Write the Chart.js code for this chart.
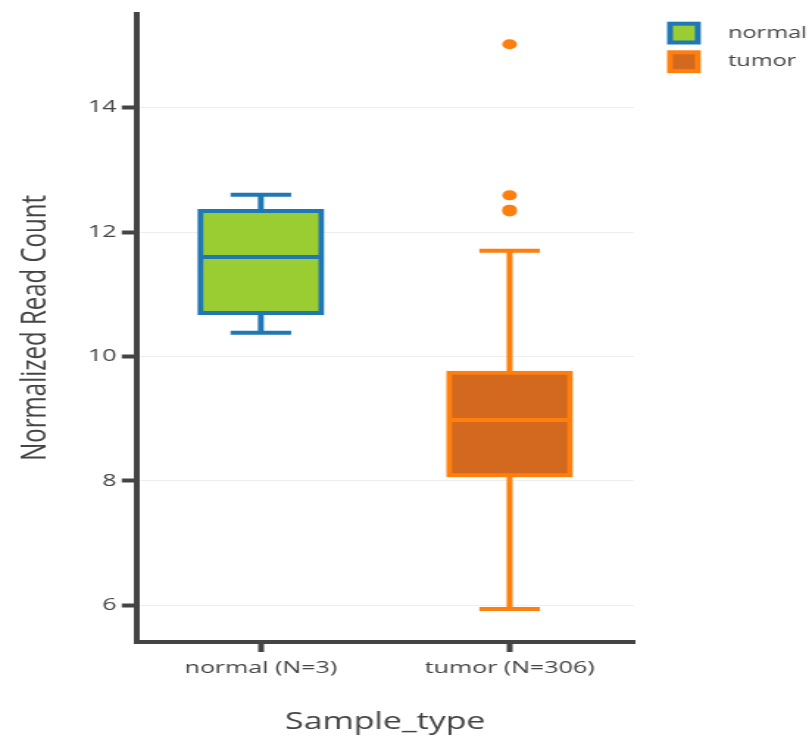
<!DOCTYPE html>
<html>
<head>
<meta charset="utf-8">
<script src="https://cdn.jsdelivr.net/npm/chart.js@4.4.1/dist/chart.umd.min.js"></script>
<style>
  html, body { margin: 0; padding: 0; background: #fff; overflow: hidden; }
  /* the reference is stretched sideways, so the chart is drawn narrow and widened */
  #wrap { width: 550px; height: 740px; transform: scaleX(1.4709); transform-origin: 0 0; }
</style>
</head>
<body>
<div id="wrap"><canvas id="c" width="550" height="740"></canvas></div>
<script>
const categories = ["normal (N=3)", "tumor (N=306)"];
const groups = ["normal", "tumor"];
const whiskerLow = [10.38, 5.94];
const q1 = [10.7, 8.09];
const median = [11.6, 8.98];
const q3 = [12.34, 9.74];
const whiskerHigh = [12.6, 11.7];
const outliers = [[], [15.02, 12.59, 12.36, 12.33]];
const yTicks = [6, 8, 10, 12, 14];
const yMin = 5.41;
const yMax = 15.51;
const fills = ["#9acd32", "#d2691e"];
const strokes = ["#1f77b4", "#ff7f0e"];

const INK = "#444";
const FONT = "'Open Sans', sans-serif";
const LW = 4;

const boxes = groups.map((g, i) => ({
  type: "bar",
  label: g,
  data: categories.map((_, j) => (j === i ? [q1[i], q3[i]] : null)),
  backgroundColor: fills[i],
  borderColor: strokes[i],
  borderWidth: LW,
  borderSkipped: false,
  inflateAmount: LW / 2,
  barThickness: 82.3,
  grouped: false,
}));

const dots = {
  type: "line",
  label: "outliers",
  data: outliers.flatMap((arr, i) => arr.map((y) => ({ x: categories[i], y }))),
  showLine: false,
  pointRadius: 5,
  pointHoverRadius: 5,
  pointBorderWidth: 0,
  pointBackgroundColor: (c) => strokes[categories.indexOf(c.raw?.x)] || strokes[1],
};

// whisker stems + caps behind the boxes, median on top
const whiskers = {
  id: "whiskers",
  beforeDatasetsDraw(chart) {
    const { ctx, scales: { x, y } } = chart;
    ctx.save();
    ctx.lineWidth = LW;
    groups.forEach((_, i) => {
      const cx = x.getPixelForValue(i);
      const half = chart.getDatasetMeta(i).data[i].width / 4;
      ctx.strokeStyle = strokes[i];
      ctx.beginPath();
      ctx.moveTo(cx, y.getPixelForValue(q3[i]));
      ctx.lineTo(cx, y.getPixelForValue(whiskerHigh[i]));
      ctx.moveTo(cx, y.getPixelForValue(q1[i]));
      ctx.lineTo(cx, y.getPixelForValue(whiskerLow[i]));
      [whiskerHigh[i], whiskerLow[i]].forEach((v) => {
        const py = y.getPixelForValue(v);
        ctx.moveTo(cx - half, py);
        ctx.lineTo(cx + half, py);
      });
      ctx.stroke();
    });
    ctx.restore();
  },
  afterDatasetsDraw(chart) {
    const { ctx, scales: { x, y } } = chart;
    ctx.save();
    ctx.lineWidth = LW;
    groups.forEach((_, i) => {
      const cx = x.getPixelForValue(i);
      const w = chart.getDatasetMeta(i).data[i].width / 2;
      const py = y.getPixelForValue(median[i]);
      ctx.strokeStyle = strokes[i];
      ctx.beginPath();
      ctx.moveTo(cx - w, py);
      ctx.lineTo(cx + w, py);
      ctx.stroke();
    });
    ctx.restore();
  },
};

const legendBox = {
  id: "legendBox",
  afterDraw(chart) {
    const { ctx } = chart;
    ctx.save();
    ctx.font = `16px ${FONT}`;
    ctx.textBaseline = "middle";
    groups.forEach((g, i) => {
      const top = 23.7 + i * 28.6;
      ctx.fillStyle = fills[i];
      ctx.fillRect(455.5, top, 18.9, 18.8);
      ctx.strokeStyle = strokes[i];
      ctx.lineWidth = LW;
      ctx.strokeRect(455.5, top, 18.9, 18.8);
      ctx.fillStyle = INK;
      ctx.fillText(g, 494.9, top + 9.4);
    });
    ctx.restore();
  },
};

new Chart(document.getElementById("c"), {
  type: "bar",
  data: { labels: categories, datasets: [...boxes, dots] },
  plugins: [whiskers, legendBox],
  options: {
    responsive: false,
    animation: false,
    layout: { padding: { top: 12, right: 119, bottom: 0, left: 0 } },
    plugins: { legend: { display: false }, tooltip: { enabled: false } },
    scales: {
      x: {
        offset: true,
        grid: { drawOnChartArea: false, drawTicks: true, tickLength: 10, tickWidth: 4, tickColor: INK, offset: false },
        border: { color: INK, width: 4 },
        ticks: { color: INK, font: { family: FONT, size: 17 }, padding: 6, maxRotation: 0 },
        title: { display: true, text: "Sample_type", color: INK, font: { family: FONT, size: 23 }, padding: { top: 0, bottom: 4 } },
        afterFit: (s) => { s.height = 98; },
      },
      y: {
        min: yMin,
        max: yMax,
        afterBuildTicks: (s) => { s.ticks = yTicks.map((v) => ({ value: v })); },
        grid: { color: "#eee", lineWidth: 1, tickLength: 10, tickWidth: 4, tickColor: INK },
        border: { color: INK, width: 4 },
        ticks: { color: INK, font: { family: FONT, size: 17 }, padding: 3.5 },
        title: { display: true, text: "Normalized Read Count", color: INK, font: { family: FONT, size: 24 }, padding: { top: 9.4, bottom: 0 } },
        afterFit: (s) => { s.width = 92.8; },
      },
    },
  },
});
</script>
</body>
</html>
